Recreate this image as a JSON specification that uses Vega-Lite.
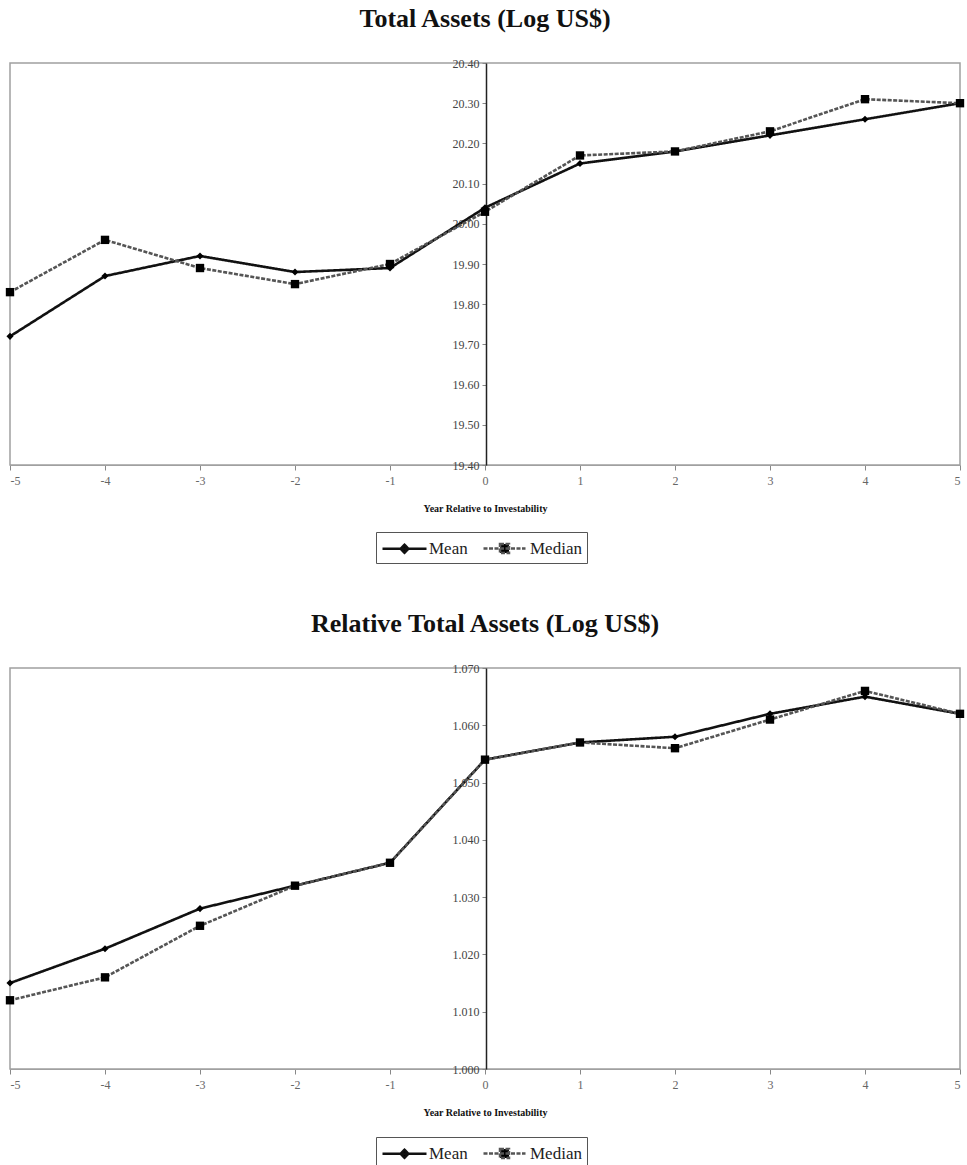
{
  "$schema": "https://vega.github.io/schema/vega-lite/v6.json",
  "padding": {"left": 4, "right": 5, "top": 5, "bottom": 2},
  "background": "white",
  "spacing": 45,
  "config": {
    "font": "Liberation Serif",
    "view": {"stroke": "#a0a0a0", "strokeWidth": 1.5},
    "axis": {"grid": false, "labelFont": "Liberation Serif", "labelColor": "#444", "tickColor": "#888", "domainColor": "#a0a0a0"},
    "title": {"font": "Liberation Serif", "fontSize": 26, "fontWeight": "bold", "color": "#111", "offset": 25}
  },
  "resolve": {"scale": {"color": "independent", "strokeDash": "independent"}, "legend": {"color": "independent"}},
  "vconcat": [
    {
      "title": "Total Assets (Log US$)",
      "width": 950,
      "height": 402,
      "data": {"values": [
        {"year": -5, "series": "Mean", "value": 19.72},
        {"year": -4, "series": "Mean", "value": 19.87},
        {"year": -3, "series": "Mean", "value": 19.92},
        {"year": -2, "series": "Mean", "value": 19.88},
        {"year": -1, "series": "Mean", "value": 19.89},
        {"year": 0, "series": "Mean", "value": 20.04},
        {"year": 1, "series": "Mean", "value": 20.15},
        {"year": 2, "series": "Mean", "value": 20.18},
        {"year": 3, "series": "Mean", "value": 20.22},
        {"year": 4, "series": "Mean", "value": 20.26},
        {"year": 5, "series": "Mean", "value": 20.30},
        {"year": -5, "series": "Median", "value": 19.83},
        {"year": -4, "series": "Median", "value": 19.96},
        {"year": -3, "series": "Median", "value": 19.89},
        {"year": -2, "series": "Median", "value": 19.85},
        {"year": -1, "series": "Median", "value": 19.90},
        {"year": 0, "series": "Median", "value": 20.03},
        {"year": 1, "series": "Median", "value": 20.17},
        {"year": 2, "series": "Median", "value": 20.18},
        {"year": 3, "series": "Median", "value": 20.23},
        {"year": 4, "series": "Median", "value": 20.31},
        {"year": 5, "series": "Median", "value": 20.30}
      ]},
      "encoding": {
        "x": {"field": "year", "type": "quantitative", "scale": {"domain": [-5, 5], "nice": false, "zero": false},
              "axis": {"values": [-5,-4,-3,-2,-1,0,1,2,3,4,5], "labelExpr": "'' + datum.value", "title": "Year Relative to Investability", "titleFontSize": 10, "titleFontWeight": "bold", "titleFont": "Liberation Serif", "titleColor": "#111", "titlePadding": 17, "labelFontSize": 12, "labelColor": "#666", "labelPadding": 5, "tickSize": 5}},
        "y": {"field": "value", "type": "quantitative", "scale": {"domain": [19.4, 20.4], "nice": false, "zero": false},
              "axis": {"values": [19.4,19.5,19.6,19.7,19.8,19.9,20.0,20.1,20.2,20.3,20.4], "format": ".2f", "title": null, "offset": -476, "domainColor": "#222", "domainWidth": 1.5, "labelFontSize": 12, "tickSize": 4, "labelPadding": 3}}
      },
      "layer": [
        {
          "mark": {"type": "line", "strokeWidth": 2.6},
          "encoding": {
            "color": {"field": "series", "type": "nominal", "scale": {"domain": ["Mean", "Median"], "range": ["#111111", "#555555"]},
              "legend": {"title": null, "orient": "none", "legendX": 366, "legendY": 469, "direction": "horizontal", "strokeColor": "#555", "padding": 5,
                "labelFont": "Liberation Serif", "labelFontSize": 17, "labelColor": "#222", "symbolSize": 400, "symbolStrokeWidth": 2.5, "labelOffset": 25, "columnPadding": 10,
                "encode": {"symbols": {"update": {
                  "shape": {"signal": "datum.value === 'Mean' ? 'M-1,0L3.4,0M1.2,-0.4L1.6,0L1.2,0.4L0.8,0Z' : 'M-1,0L3.2,0M0.65,-0.45L1.55,-0.45L1.55,0.45L0.65,0.45Z'"},
                  "fill": {"value": "#000"},
                  "stroke": {"signal": "datum.value === 'Mean' ? '#111' : '#3a3a3a'"}
                }}}}},
            "strokeDash": {"field": "series", "type": "nominal", "scale": {"domain": ["Mean", "Median"], "range": [[1,0],[4,1.5]]}, "legend": null}
          }
        },
        {
          "transform": [{"filter": "datum.series === 'Mean'"}],
          "mark": {"type": "point", "filled": true, "opacity": 1, "color": "#000", "shape": "diamond", "size": 50}
        },
        {
          "transform": [{"filter": "datum.series === 'Median'"}],
          "mark": {"type": "point", "filled": true, "opacity": 1, "color": "#000", "shape": "square", "size": 70}
        }
      ]
    },
    {
      "title": "Relative Total Assets (Log US$)",
      "width": 950,
      "height": 401,
      "data": {"values": [
        {"year": -5, "series": "Mean", "value": 1.015},
        {"year": -4, "series": "Mean", "value": 1.021},
        {"year": -3, "series": "Mean", "value": 1.028},
        {"year": -2, "series": "Mean", "value": 1.032},
        {"year": -1, "series": "Mean", "value": 1.036},
        {"year": 0, "series": "Mean", "value": 1.054},
        {"year": 1, "series": "Mean", "value": 1.057},
        {"year": 2, "series": "Mean", "value": 1.058},
        {"year": 3, "series": "Mean", "value": 1.062},
        {"year": 4, "series": "Mean", "value": 1.065},
        {"year": 5, "series": "Mean", "value": 1.062},
        {"year": -5, "series": "Median", "value": 1.012},
        {"year": -4, "series": "Median", "value": 1.016},
        {"year": -3, "series": "Median", "value": 1.025},
        {"year": -2, "series": "Median", "value": 1.032},
        {"year": -1, "series": "Median", "value": 1.036},
        {"year": 0, "series": "Median", "value": 1.054},
        {"year": 1, "series": "Median", "value": 1.057},
        {"year": 2, "series": "Median", "value": 1.056},
        {"year": 3, "series": "Median", "value": 1.061},
        {"year": 4, "series": "Median", "value": 1.066},
        {"year": 5, "series": "Median", "value": 1.062}
      ]},
      "encoding": {
        "x": {"field": "year", "type": "quantitative", "scale": {"domain": [-5, 5], "nice": false, "zero": false},
              "axis": {"values": [-5,-4,-3,-2,-1,0,1,2,3,4,5], "labelExpr": "'' + datum.value", "title": "Year Relative to Investability", "titleFontSize": 10, "titleFontWeight": "bold", "titleFont": "Liberation Serif", "titleColor": "#111", "titlePadding": 17, "labelFontSize": 12, "labelColor": "#666", "labelPadding": 5, "tickSize": 5}},
        "y": {"field": "value", "type": "quantitative", "scale": {"domain": [1.0, 1.07], "nice": false, "zero": false},
              "axis": {"values": [1.0,1.01,1.02,1.03,1.04,1.05,1.06,1.07], "format": ".3f", "title": null, "offset": -476, "domainColor": "#222", "domainWidth": 1.5, "labelFontSize": 12, "tickSize": 4, "labelPadding": 3}}
      },
      "layer": [
        {
          "mark": {"type": "line", "strokeWidth": 2.6},
          "encoding": {
            "color": {"field": "series", "type": "nominal", "scale": {"domain": ["Mean", "Median"], "range": ["#111111", "#555555"]},
              "legend": {"title": null, "orient": "none", "legendX": 366, "legendY": 469, "direction": "horizontal", "strokeColor": "#555", "padding": 5,
                "labelFont": "Liberation Serif", "labelFontSize": 17, "labelColor": "#222", "symbolSize": 400, "symbolStrokeWidth": 2.5, "labelOffset": 25, "columnPadding": 10,
                "encode": {"symbols": {"update": {
                  "shape": {"signal": "datum.value === 'Mean' ? 'M-1,0L3.4,0M1.2,-0.4L1.6,0L1.2,0.4L0.8,0Z' : 'M-1,0L3.2,0M0.65,-0.45L1.55,-0.45L1.55,0.45L0.65,0.45Z'"},
                  "fill": {"value": "#000"},
                  "stroke": {"signal": "datum.value === 'Mean' ? '#111' : '#3a3a3a'"}
                }}}}},
            "strokeDash": {"field": "series", "type": "nominal", "scale": {"domain": ["Mean", "Median"], "range": [[1,0],[4,1.5]]}, "legend": null}
          }
        },
        {
          "transform": [{"filter": "datum.series === 'Mean'"}],
          "mark": {"type": "point", "filled": true, "opacity": 1, "color": "#000", "shape": "diamond", "size": 50}
        },
        {
          "transform": [{"filter": "datum.series === 'Median'"}],
          "mark": {"type": "point", "filled": true, "opacity": 1, "color": "#000", "shape": "square", "size": 70}
        }
      ]
    }
  ]
}
